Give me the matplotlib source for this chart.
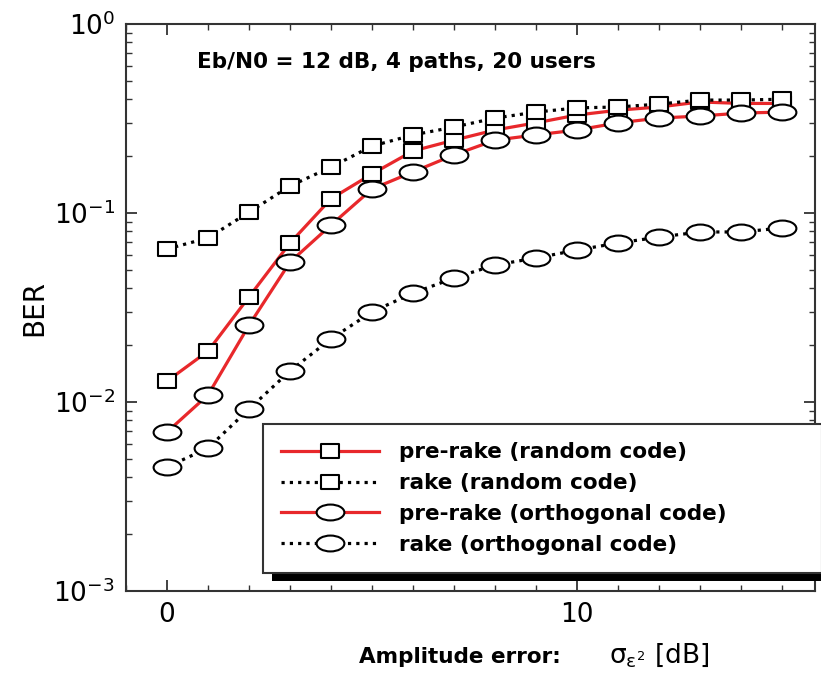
import numpy as np
import matplotlib
matplotlib.use("Agg")
import matplotlib.pyplot as plt
from matplotlib.path import Path
from matplotlib.transforms import Affine2D
from matplotlib.ticker import MultipleLocator, LogLocator, NullFormatter
from matplotlib.patches import Rectangle

plt.rcParams['font.family'] = ['DejaVu Sans']
plt.rcParams['mathtext.default'] = 'regular'

# Amplitude error (dB)
amp_err = np.arange(0, 16)

# BER curves
ber_prerake_random = [0.0129, 0.0186, 0.036, 0.0694, 0.119, 0.161, 0.213, 0.243,
                      0.275, 0.300, 0.330, 0.350, 0.364, 0.387, 0.380, 0.380]
ber_rake_random = [0.0645, 0.0738, 0.101, 0.139, 0.175, 0.226, 0.259, 0.285,
                   0.318, 0.342, 0.360, 0.364, 0.377, 0.396, 0.396, 0.400]
ber_prerake_orth = [0.00694, 0.0109, 0.0255, 0.055, 0.0864, 0.134, 0.165, 0.203,
                    0.243, 0.259, 0.275, 0.300, 0.318, 0.326, 0.338, 0.342]
ber_rake_orth = [0.00453, 0.00571, 0.00918, 0.0146, 0.0216, 0.030, 0.0377, 0.0453,
                 0.0531, 0.0578, 0.0637, 0.0694, 0.0746, 0.0794, 0.0794, 0.0833]

labels = ['pre-rake (random code)', 'rake (random code)',
          'pre-rake (orthogonal code)', 'rake (orthogonal code)']

# marqueurs un peu aplatis comme sur l'original
box = Affine2D().scale(1.25, 1.0).transform_path(Path.unit_rectangle().transformed(Affine2D().translate(-0.5, -0.5)))
oval = Affine2D().scale(1.75, 1.0).transform_path(Path.unit_circle())

red = '#e8282b'
dots = (0, (1, 1.6))

fig = plt.figure(figsize=(8.21, 6.73), dpi=100)
ax = fig.add_axes([0.1535, 0.1218, 0.839, 0.8425])

common = dict(markerfacecolor='white', markeredgecolor='black', markeredgewidth=1.5)
ax.plot(amp_err, ber_prerake_random, color=red, lw=2.3, marker=box, ms=13,
        label=labels[0], **common)
ax.plot(amp_err, ber_rake_random, color='black', lw=2.3, ls=dots, marker=box, ms=13,
        label=labels[1], **common)
ax.plot(amp_err, ber_prerake_orth, color=red, lw=2.3, marker=oval, ms=20,
        label=labels[2], **common)
ax.plot(amp_err, ber_rake_orth, color='black', lw=2.3, ls=dots, marker=oval, ms=20,
        label=labels[3], **common)

ax.set_yscale('log')
ax.set_ylim(1e-3, 1)
ax.set_xlim(-1, 15.8)

ax.xaxis.set_major_locator(MultipleLocator(10))
ax.xaxis.set_minor_locator(MultipleLocator(1))
ax.yaxis.set_major_locator(LogLocator(base=10, numticks=10))
ax.yaxis.set_minor_locator(LogLocator(base=10, subs=np.arange(2, 10), numticks=10))
ax.yaxis.set_minor_formatter(NullFormatter())

ax.tick_params(which='both', direction='in', top=True, right=True, colors='#333333')
ax.tick_params(which='major', length=8, width=1.3, labelsize=19, pad=8, labelcolor='black')
ax.tick_params(which='minor', length=4, width=1.0)
for s in ax.spines.values():
    s.set_linewidth(1.5)
    s.set_color('#333333')

ax.set_ylabel('BER', fontsize=20, labelpad=4)

ax.text(0.103, 0.933, 'Eb/N0 = 12 dB, 4 paths, 20 users', transform=ax.transAxes,
        fontsize=15.5, fontweight='bold', va='center', ha='left')

# ombre noire sous la légende
ax.add_patch(Rectangle((0.212, 0.018), 0.80, 0.012, transform=ax.transAxes,
                       facecolor='black', edgecolor='none', clip_on=False, zorder=4))
leg = ax.legend(loc='lower left', bbox_to_anchor=(0.199, 0.032, 0.812, 0.27),
                mode='expand', fancybox=False, framealpha=1, edgecolor='#333333',
                prop={'size': 15.5, 'weight': 'bold'}, handlelength=4.55,
                handletextpad=0.9, labelspacing=0.5, borderpad=0.85, borderaxespad=0)
leg.get_frame().set_linewidth(1.5)
leg.set_zorder(5)

fig.text(0.437, 0.015, 'Amplitude error:', fontsize=15.5, fontweight='bold',
         ha='left', va='baseline')
fig.text(0.742, 0.015, r'$\sigma_{\epsilon^2}$ [dB]', fontsize=19, ha='left',
         va='baseline')

plt.savefig('out.png', dpi=100)
plt.close()
